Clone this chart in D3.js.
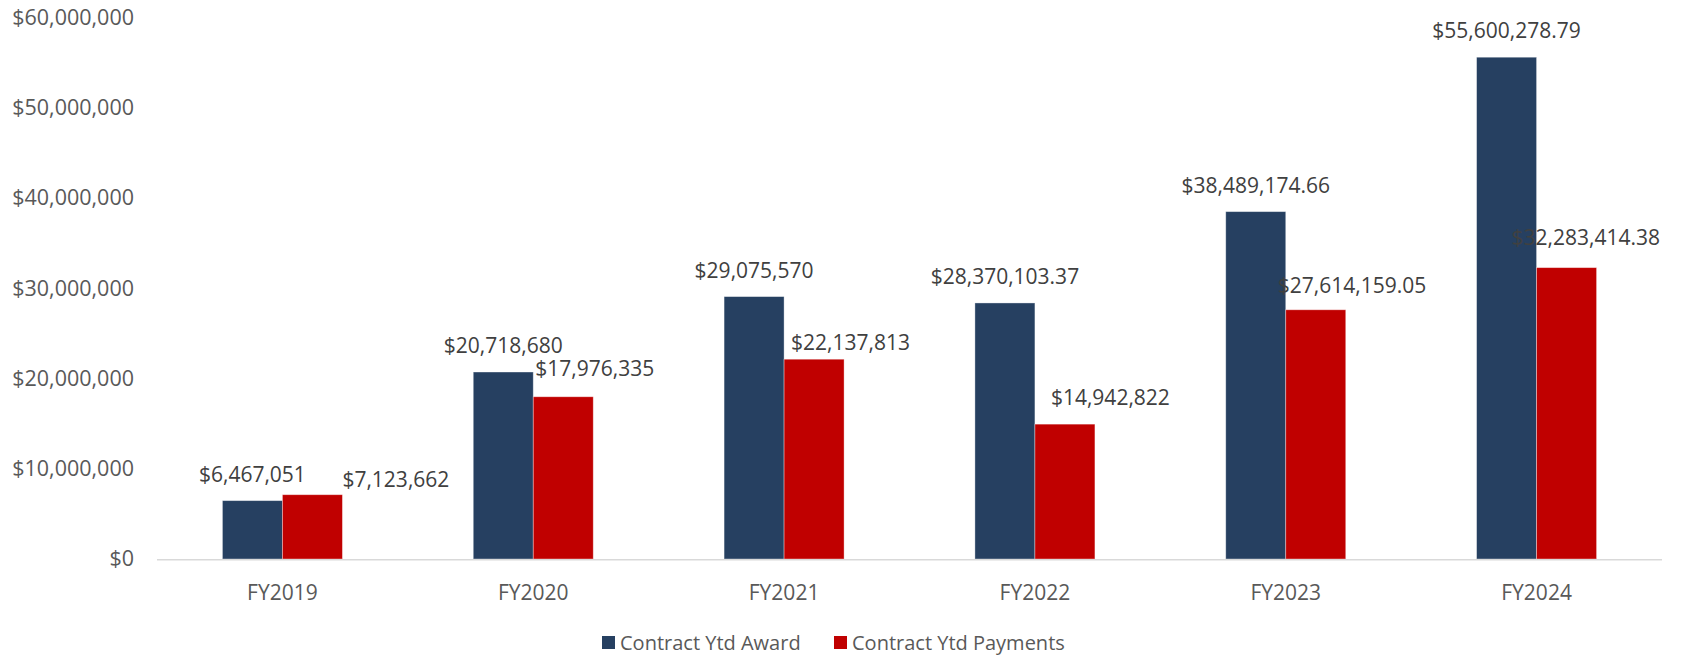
<!DOCTYPE html>
<html>
<head>
<meta charset="utf-8">
<script src="https://cdn.jsdelivr.net/npm/d3@7/dist/d3.min.js"></script>
<style>
  body { margin: 0; background: #fff; }
  svg { display: block; font-family: 'Open Sans', 'Noto Sans', sans-serif; }
</style>
</head>
<body>
<div id="chart"></div>
<script>
// fiscal years on the x axis
const years = ['FY2019', 'FY2020', 'FY2021', 'FY2022', 'FY2023', 'FY2024']
// Contract Ytd Award
const award = [6467051, 20718680, 29075570, 28370103.37, 38489174.66, 55600278.79]
// Contract Ytd Payments
const payments = [7123662, 17976335, 22137813, 14942822, 27614159.05, 32283414.38]
const yTicks = [0, 10e6, 20e6, 30e6, 40e6, 50e6, 60e6]
const seriesNames = ['Contract Ytd Award', 'Contract Ytd Payments']
const colors = ['#264061', '#c00000']

// payment labels were dragged around by hand in the original, keep the nudges apart
const payNudge = [[60, -8], [2, -21], [7, -9], [16, -19], [-8, -17], [-25, -23]]

const W = 1694, H = 655
const plotL = 157, plotR = 1662, plotT = 17.5, base = 559

const svg = d3.select('#chart').append('svg')
  .attr('width', W).attr('height', H)

const x = d3.scaleBand().domain(years).range([plotL, plotR]).padding(0)
const barW = 60
const inner = d3.scaleBand().domain([0, 1])
  .range([(x.bandwidth() - 2 * barW) / 2, (x.bandwidth() + 2 * barW) / 2])
const y = d3.scaleLinear().domain([0, 60e6]).range([base, plotT])

const money = v => Number.isInteger(v) ? d3.format('$,.0f')(v) : d3.format('$,.2f')(v)

// y axis labels only, no gridlines
const yAxis = svg.append('g')
  .attr('transform', `translate(${plotL},0)`)
  .call(d3.axisLeft(y).tickValues(yTicks).tickFormat(d3.format('$,')).tickSize(0).tickPadding(23))
yAxis.select('.domain').remove()
yAxis.selectAll('.tick text')
  .style('font-family', "'Open Sans', 'Noto Sans', sans-serif")
  .style('font-size', '21.5px')
  .attr('fill', '#595959')

// bars
const rows = years.map((yr, i) => ({ yr, vals: [award[i], payments[i]], i }))
const groups = svg.append('g').selectAll('g').data(rows).join('g')
  .attr('transform', d => `translate(${x(d.yr)},0)`)

groups.selectAll('rect').data(d => d.vals.map((v, s) => ({ v, s }))).join('rect')
  .attr('x', d => inner(d.s))
  .attr('y', d => y(d.v))
  .attr('width', inner.bandwidth())
  .attr('height', d => base - y(d.v))
  .attr('fill', d => colors[d.s])
  .attr('stroke', 'rgba(255,255,255,0.45)')
  .attr('stroke-width', 0.8)

// baseline
svg.append('line')
  .attr('x1', plotL).attr('x2', plotR)
  .attr('y1', base + 0.8).attr('y2', base + 0.8)
  .attr('stroke', '#d9d9d9').attr('stroke-width', 1.6)

// award labels centred above the bars
groups.append('text')
  .attr('x', inner(0) + inner.bandwidth() / 2)
  .attr('y', d => y(d.vals[0]) - 19)
  .attr('text-anchor', 'middle')
  .style('font-size', '21px')
  .attr('fill', '#404040')
  .text(d => money(d.vals[0]))

// payment labels
groups.append('text')
  .attr('x', d => inner(1) + payNudge[d.i][0])
  .attr('y', d => y(d.vals[1]) + payNudge[d.i][1])
  .style('font-size', '21px')
  .attr('fill', '#404040')
  .text(d => money(d.vals[1]))

// category labels
const xAxis = svg.append('g')
  .attr('transform', `translate(0,${base})`)
  .call(d3.axisBottom(x).tickSize(0).tickPadding(0))
xAxis.select('.domain').remove()
xAxis.selectAll('.tick text')
  .attr('y', 41).attr('dy', null)
  .style('font-family', "'Open Sans', 'Noto Sans', sans-serif")
  .style('font-size', '21px')
  .attr('fill', '#595959')

// legend
const legendX = [602, 834]
const lg = svg.append('g').selectAll('g').data(seriesNames).join('g')
  .attr('transform', (d, i) => `translate(${legendX[i]},636)`)
lg.append('rect').attr('width', 13).attr('height', 13).attr('fill', (d, i) => colors[i])
lg.append('text')
  .attr('x', 18).attr('y', 13.5)
  .style('font-size', '20px')
  .attr('fill', '#595959')
  .text(d => d)
</script>
</body>
</html>
